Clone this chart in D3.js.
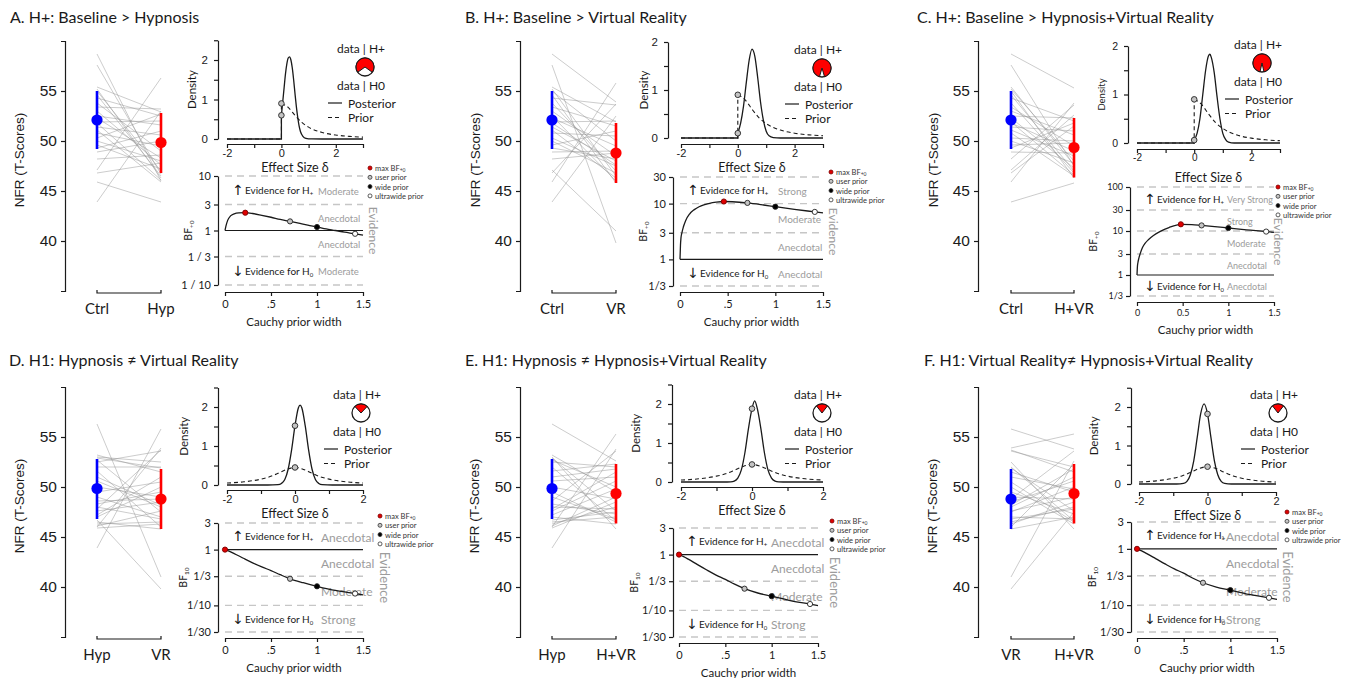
<!DOCTYPE html>
<html>
<head>
<meta charset="utf-8">
<script src="https://cdn.jsdelivr.net/npm/d3@7"></script>
<style>
  body { margin: 0; background: #fff; }
  svg { display: block; }
</style>
</head>
<body>
<div id="chart"></div>
<script>

// ---- data ----
const conditions = ["Ctrl", "Hyp", "VR", "H+VR"];
const condMeans = [52.1, 49.85, 48.8, 49.35];
const condLow = [49.2, 46.8, 45.8, 46.35];
const condHigh = [55.0, 52.8, 51.8, 52.3];
const scoreTicks = [40, 45, 50, 55];

// one value per participant, same order in every condition
const ctrlScores = [58.7, 57.6, 55.4, 55.2, 55.0, 54.6, 54.3, 53.8, 53.4, 53.0, 52.5, 52.3, 51.9, 51.8, 51.4, 51.1, 50.8, 50.3, 50.0, 49.6, 49.3, 48.9, 48.2, 47.1, 46.8, 45.9, 43.9];
const hypScores = [46.0, 46.7, 52.9, 46.3, 47.0, 46.5, 52.5, 49.0, 53.2, 47.6, 51.6, 48.3, 52.0, 46.1, 50.6, 45.9, 49.5, 52.7, 48.0, 47.2, 51.0, 50.0, 48.6, 56.3, 47.8, 43.9, 53.0];
const vrScores = [53.9, 39.8, 51.9, 46.5, 50.0, 45.8, 53.6, 47.0, 51.5, 48.5, 46.0, 49.5, 52.0, 47.6, 48.0, 46.3, 50.5, 47.5, 46.8, 51.0, 48.2, 49.0, 48.8, 41.0, 53.7, 55.8, 52.5];
const hvrScores = [55.3, 47.5, 47.6, 48.0, 46.3, 47.0, 52.0, 46.8, 49.5, 50.6, 52.3, 47.3, 46.6, 49.0, 51.0, 48.5, 46.5, 50.0, 47.8, 49.8, 51.8, 48.8, 53.6, 52.6, 51.5, 53.8, 45.8];

const panelTitles = [
  "A. H+: Baseline > Hypnosis",
  "B. H+: Baseline > Virtual Reality",
  "C. H+: Baseline > Hypnosis+Virtual Reality",
  "D. H1: Hypnosis \u2260 Virtual Reality",
  "E. H1: Hypnosis \u2260 Hypnosis+Virtual Reality",
  "F. H1: Virtual Reality\u2260 Hypnosis+Virtual Reality"
];
const panelPairs = [[0, 1], [0, 2], [0, 3], [1, 2], [1, 3], [2, 3]];
const oneSided = [true, true, true, false, false, false];
const densityYMax = [2.5, 2, 2, 2.5, 2.5, 2.5];

const posteriorCurves = [
  [[0, 0.6], [0.05, 0.95], [0.1, 1.3], [0.15, 1.65], [0.2, 1.9], [0.25, 2.05], [0.3, 2.08], [0.35, 2.0], [0.4, 1.8], [0.45, 1.5], [0.5, 1.15], [0.55, 0.82], [0.6, 0.55], [0.65, 0.33], [0.7, 0.19], [0.8, 0.06], [0.9, 0.015], [1.0, 0.003], [1.5, 0], [3, 0]],
  [[0, 0.1], [0.1, 0.31], [0.2, 0.66], [0.3, 1.16], [0.4, 1.62], [0.5, 1.85], [0.6, 1.7], [0.7, 1.26], [0.8, 0.75], [0.9, 0.37], [1.0, 0.14], [1.1, 0.045], [1.25, 0.01], [1.5, 0], [3, 0]],
  [[0, 0.06], [0.1, 0.2], [0.2, 0.5], [0.3, 1.0], [0.4, 1.5], [0.5, 1.8], [0.55, 1.83], [0.6, 1.76], [0.7, 1.45], [0.8, 0.95], [0.9, 0.5], [1.0, 0.2], [1.1, 0.07], [1.2, 0.02], [1.4, 0], [3, 0]],
  [[-2, 0], [-0.8, 0], [-0.5, 0.01], [-0.4, 0.04], [-0.3, 0.14], [-0.2, 0.41], [-0.1, 0.9], [0, 1.52], [0.1, 1.98], [0.15, 2.05], [0.2, 1.98], [0.3, 1.52], [0.4, 0.9], [0.5, 0.41], [0.6, 0.14], [0.7, 0.04], [0.8, 0.01], [1.1, 0], [2, 0]],
  [[-2, 0], [-0.8, 0], [-0.6, 0.005], [-0.5, 0.024], [-0.4, 0.1], [-0.3, 0.31], [-0.2, 0.75], [-0.1, 1.37], [0, 1.88], [0.075, 2.08], [0.15, 1.88], [0.25, 1.37], [0.35, 0.75], [0.45, 0.31], [0.55, 0.1], [0.65, 0.024], [0.75, 0.005], [1, 0], [2, 0]],
  [[-2, 0], [-0.9, 0], [-0.7, 0.016], [-0.6, 0.07], [-0.5, 0.24], [-0.4, 0.61], [-0.3, 1.21], [-0.2, 1.82], [-0.1, 2.08], [0, 1.82], [0.1, 1.21], [0.2, 0.61], [0.3, 0.24], [0.4, 0.07], [0.5, 0.016], [0.7, 0], [2, 0]]
];
const priorOneSided = [[0, 0.9], [0.25, 0.8], [0.5, 0.6], [0.75, 0.42], [1, 0.3], [1.5, 0.165], [2, 0.1], [2.5, 0.066], [3, 0.047]];
const priorTwoSided = [[-2, 0.05], [-1.5, 0.082], [-1, 0.15], [-0.75, 0.21], [-0.5, 0.3], [-0.25, 0.4], [0, 0.45], [0.25, 0.4], [0.5, 0.3], [0.75, 0.21], [1, 0.15], [1.5, 0.082], [2, 0.05]];
const priorCurves = [priorOneSided, priorOneSided, priorOneSided, priorTwoSided, priorTwoSided, priorTwoSided];
const posteriorAtZero = [0.6, 0.1, 0.06, 1.52, 1.88, 1.82];
const priorAtZero = [0.9, 0.9, 0.9, 0.45, 0.45, 0.45];
const pieShares = [0.70, 0.91, 0.93, 0.24, 0.21, 0.21];

const bfCurves = [
  [[0, 1], [0.01, 1.2], [0.03, 1.55], [0.06, 1.85], [0.1, 2.02], [0.15, 2.1], [0.22, 2.12], [0.3, 2.05], [0.4, 1.9], [0.5, 1.75], [0.6, 1.6], [0.707, 1.47], [0.8, 1.36], [0.9, 1.25], [1.0, 1.16], [1.1, 1.07], [1.2, 1.0], [1.3, 0.93], [1.414, 0.87], [1.5, 0.82]],
  [[0, 1], [0.005, 1.8], [0.01, 2.4], [0.02, 3.0], [0.035, 3.8], [0.06, 5.0], [0.1, 6.5], [0.15, 7.8], [0.2, 8.8], [0.25, 9.5], [0.3, 10.0], [0.38, 10.6], [0.46, 10.9], [0.55, 10.8], [0.707, 10.3], [0.85, 9.6], [1, 8.8], [1.2, 7.9], [1.414, 7.1], [1.5, 6.8]],
  [[0, 1], [0.005, 1.6], [0.01, 1.9], [0.02, 2.4], [0.036, 3.1], [0.06, 4.2], [0.09, 5.3], [0.127, 6.4], [0.18, 7.9], [0.255, 9.8], [0.35, 12.0], [0.48, 14.2], [0.6, 14.0], [0.707, 13.4], [0.85, 12.6], [1, 11.7], [1.2, 10.6], [1.414, 9.7], [1.5, 9.3]],
  [[0, 1], [0.05, 0.93], [0.1, 0.85], [0.2, 0.70], [0.3, 0.58], [0.4, 0.49], [0.5, 0.42], [0.6, 0.355], [0.707, 0.30], [0.85, 0.255], [1, 0.22], [1.2, 0.185], [1.414, 0.163], [1.5, 0.155]],
  [[0, 1], [0.05, 0.92], [0.1, 0.83], [0.2, 0.66], [0.3, 0.53], [0.4, 0.43], [0.5, 0.36], [0.6, 0.295], [0.707, 0.245], [0.85, 0.205], [1, 0.18], [1.2, 0.15], [1.414, 0.13], [1.5, 0.122]],
  [[0, 1], [0.05, 0.92], [0.1, 0.83], [0.2, 0.67], [0.3, 0.54], [0.4, 0.44], [0.5, 0.37], [0.6, 0.30], [0.707, 0.25], [0.85, 0.21], [1, 0.185], [1.2, 0.155], [1.414, 0.135], [1.5, 0.126]]
];
const bfMax = [[0.22, 2.12], [0.46, 10.9], [0.48, 14.2], [0, 1], [0, 1], [0, 1]];
const priorWidths = [0.707, 1, 1.414];
const bfUser = [1.47, 10.3, 13.4, 0.30, 0.245, 0.25];
const bfWide = [1.16, 8.8, 11.7, 0.22, 0.18, 0.185];
const bfUltra = [0.87, 7.1, 9.7, 0.163, 0.13, 0.135];

const bfTicksA = [10, 3, 1, 1 / 3, 1 / 10];
const bfTicksB = [30, 10, 3, 1, 1 / 3];
const bfTicksC = [100, 30, 10, 3, 1, 1 / 3];
const bfTicksH1 = [3, 1, 1 / 3, 1 / 10, 1 / 30];
const bfTicks = [bfTicksA, bfTicksB, bfTicksC, bfTicksH1, bfTicksH1, bfTicksH1];
const bfTickLabels = [
  ["10", "3", "1", "1 / 3", "1 / 10"],
  ["30", "10", "3", "1", "1/3"],
  ["100", "30", "10", "3", "1", "1/3"],
  ["3", "1", "1/3", "1/10", "1/30"],
  ["3", "1", "1/3", "1/10", "1/30"],
  ["3", "1", "1/3", "1/10", "1/30"]
];
const widthTickLabels = ["0", ".5", "1", "1.5"];
const widthTickLabelsC = ["0", "0.5", "1", "1.5"];
const evidenceBands = [
  ["Moderate", "Anecdotal", "Anecdotal", "Moderate"],
  ["Strong", "Moderate", "Anecdotal", "Anecdotal"],
  ["Very Strong", "Strong", "Moderate", "Anecdotal", "Anecdotal"],
  ["Anecdotal", "Anecdotal", "Moderate", "Strong"],
  ["Anecdotal", "Anecdotal", "Moderate", "Strong"],
  ["Anecdotal", "Anecdotal", "Moderate", "Strong"]
];
const bfSubscripts = ["+0", "+0", "+0", "10", "10", "10"];
const legendNames = ["max BF", "user prior", "wide prior", "ultrawide prior"];

// ---- layout (pixel positions for each panel) ----
const layouts = [
  { title: [10, 23],
    left: { axis: 65, x0: 97, x1: 161, top: 41, bot: 291, lab: 19 },
    dens: { axis: 218, xl: 227, xr: 363, y0: 139, y2: 60, xAxisY: 144, lab: 191 },
    pie: [365, 67],
    bf: { axis: 218, xl: 225, xr: 363, yTop: 176, yBot: 285, xAxisY: 292, lab: 188, evX: 318, evFs: 9.5, forFs: 10, evTextX: 373, legend: [370, 168] } },
  { title: [465, 23],
    left: { axis: 520, x0: 552, x1: 616, top: 41, bot: 291, lab: 475 },
    dens: { axis: 668, xl: 681, xr: 823, y0: 138, y2: 42, xAxisY: 144, lab: 643 },
    pie: [822, 68],
    bf: { axis: 673, xl: 680, xr: 823, yTop: 177, yBot: 286, xAxisY: 292, lab: 643, evX: 778, evFs: 10, forFs: 10, evTextX: 833, legend: [831, 172] } },
  { title: [917, 23], small: true,
    left: { axis: 978, x0: 1011, x1: 1074, top: 41, bot: 291, lab: 933 },
    dens: { axis: 1128, xl: 1137, xr: 1280, y0: 143, y2: 46, xAxisY: 149, lab: 1101 },
    pie: [1262, 63],
    bf: { axis: 1130, xl: 1137, xr: 1274, yTop: 187, yBot: 296, xAxisY: 302, lab: 1093, evX: 1227, evFs: 9, forFs: 9.8, evTextX: 1278, legend: [1278, 187] } },
  { title: [9, 366],
    left: { axis: 65, x0: 97, x1: 161, top: 387, bot: 637, lab: 19 },
    dens: { axis: 218, xl: 227, xr: 363, y0: 485, y2: 407, xAxisY: 490, lab: 183 },
    pie: [361, 413],
    bf: { axis: 218, xl: 225, xr: 363, yTop: 523, yBot: 632, xAxisY: 638, lab: 183, evX: 321, evFs: 12, forFs: 10, evTextX: 385, legend: [380, 516] } },
  { title: [465, 366],
    left: { axis: 520, x0: 552, x1: 616, top: 387, bot: 637, lab: 474 },
    dens: { axis: 672, xl: 681, xr: 823, y0: 482, y2: 404, xAxisY: 487, lab: 635 },
    pie: [822, 413],
    bf: { axis: 673, xl: 679, xr: 818, yTop: 528, yBot: 637, xAxisY: 643, lab: 634, evX: 771, evFs: 12, forFs: 10, evTextX: 835, legend: [832, 521] } },
  { title: [924, 366],
    left: { axis: 978, x0: 1011, x1: 1074, top: 387, bot: 637, lab: 932 },
    dens: { axis: 1131, xl: 1139, xr: 1276, y0: 484, y2: 407, xAxisY: 492, lab: 1093 },
    pie: [1278, 413],
    bf: { axis: 1131, xl: 1137, xr: 1277, yTop: 522, yBot: 632, xAxisY: 638, lab: 1092, evX: 1226, evFs: 12, forFs: 10, evTextX: 1288, legend: [1287, 512] },
    stray: [[1223, 537, "1"], [1223, 620, "0"]] }
];

const fontR = "'Liberation Sans', Arial, sans-serif";
const fontM = "Lato, 'Open Sans', sans-serif";
const ink = "#1a1a1a";
const evGrey = "#9c9c9c";
const scoreSets = [ctrlScores, hypScores, vrScores, hvrScores];

const svg = d3.select("#chart").append("svg")
    .attr("width", 1354)
    .attr("height", 678);

const styleAxis = (sel, fs, family) => {
    sel.attr("font-size", null).attr("font-family", null);
    sel.select(".domain").attr("stroke", ink).attr("stroke-width", 1.2);
    sel.selectAll(".tick line").attr("stroke", ink).attr("stroke-width", 1.2);
    sel.selectAll(".tick text")
        .attr("font-family", family)
        .attr("font-size", fs)
        .attr("fill", ink);
};

const drawScores = (g, S, p) => {
    const [a, b] = panelPairs[p];
    const y = d3.scaleLinear().domain([35, 60]).range([S.bot, S.top]);
    const x = d3.scalePoint().domain([conditions[a], conditions[b]]).range([S.x0, S.x1]);

    const ay = g.append("g")
        .attr("transform", `translate(${S.axis},0)`)
        .call(d3.axisLeft(y).tickValues(scoreTicks).tickSize(4).tickSizeOuter(4).tickPadding(4));
    styleAxis(ay, 15.5, fontR);

    const base = S.bot + 2;
    g.append("path")
        .attr("d", `M${S.x0},${base - 3}V${base}H${S.x1}V${base - 3}`)
        .attr("fill", "none")
        .attr("stroke", ink)
        .attr("stroke-width", 1.2);

    g.selectAll(".cond-label")
        .data([a, b])
        .enter()
        .append("text")
        .attr("x", d => x(conditions[d]))
        .attr("y", S.bot + 17)
        .attr("text-anchor", "middle")
        .attr("dominant-baseline", "central")
        .attr("font-family", fontM)
        .attr("font-size", 15)
        .attr("fill", ink)
        .text(d => conditions[d]);

    g.append("text")
        .attr("transform", `translate(${S.lab},${(S.top + S.bot) / 2 - 6}) rotate(-90)`)
        .attr("text-anchor", "middle")
        .attr("dominant-baseline", "central")
        .attr("font-family", fontR)
        .attr("font-size", 13.5)
        .attr("fill", ink)
        .text("NFR (T-Scores)");

    const left = scoreSets[a], right = scoreSets[b];
    g.append("g")
        .selectAll("line")
        .data(d3.range(left.length))
        .enter()
        .append("line")
        .attr("x1", x(conditions[a]))
        .attr("x2", x(conditions[b]))
        .attr("y1", i => y(left[i]))
        .attr("y2", i => y(right[i]))
        .attr("stroke", "#8f8f8f")
        .attr("stroke-opacity", 0.45)
        .attr("stroke-width", 1);

    [[a, "#0000ff"], [b, "#ff0000"]].forEach(([c, col]) => {
        g.append("line")
            .attr("x1", x(conditions[c])).attr("x2", x(conditions[c]))
            .attr("y1", y(condLow[c])).attr("y2", y(condHigh[c]))
            .attr("stroke", col)
            .attr("stroke-width", 2.6);
        g.append("circle")
            .attr("cx", x(conditions[c]))
            .attr("cy", y(condMeans[c]))
            .attr("r", 5.6)
            .attr("fill", col);
    });
};

const drawDensity = (g, L, p) => {
    const D = L.dens;
    const xDom = oneSided[p] ? [-2, 3] : [-2, 2];
    const unit = (D.y0 - D.y2) / 2;
    const ymax = densityYMax[p];
    const xd = d3.scaleLinear().domain(xDom).range([D.xl, D.xr]);
    const yd = d3.scaleLinear().domain([0, ymax]).range([D.y0, D.y0 - ymax * unit]);
    const fs = L.small ? 10 : 11;

    const ya = g.append("g")
        .attr("transform", `translate(${D.axis},0)`)
        .call(d3.axisLeft(yd)
            .tickValues(d3.range(0, ymax + 0.01, 0.5))
            .tickFormat(d => Number.isInteger(d) ? String(d) : "")
            .tickSize(4).tickSizeOuter(0).tickPadding(6));
    styleAxis(ya, fs + 0.5, fontR);

    const xa = g.append("g")
        .attr("transform", `translate(0,${D.xAxisY})`)
        .call(d3.axisBottom(xd)
            .tickValues(d3.range(xDom[0], xDom[1] + 0.01, 1))
            .tickFormat(d => d % 2 === 0 ? String(d) : "")
            .tickSize(4).tickSizeOuter(0).tickPadding(1));
    styleAxis(xa, fs, fontR);

    g.append("text")
        .attr("transform", `translate(${D.lab},${(D.y0 + yd(ymax)) / 2}) rotate(-90)`)
        .attr("text-anchor", "middle")
        .attr("dominant-baseline", "central")
        .attr("font-family", fontM)
        .attr("font-size", L.small ? 9.5 : 11.5)
        .attr("fill", ink)
        .text("Density");

    g.append("text")
        .attr("x", (D.xl + D.xr) / 2)
        .attr("y", D.xAxisY + (L.small ? 28 : 23))
        .attr("text-anchor", "middle")
        .attr("dominant-baseline", "central")
        .attr("font-family", fontM)
        .attr("font-size", 12.5)
        .attr("fill", ink)
        .text("Effect Size \u03b4");

    const smooth = d3.line().x(d => xd(d[0])).y(d => yd(d[1])).curve(d3.curveMonotoneX);
    const straight = d3.line().x(d => xd(d[0])).y(d => yd(d[1]));
    const densityPath = pts => oneSided[p]
        ? straight([[xDom[0], 0], [0, 0], pts[0]]) + smooth(pts)
        : smooth(pts);

    g.append("path")
        .attr("d", densityPath(priorCurves[p]))
        .attr("fill", "none")
        .attr("stroke", ink)
        .attr("stroke-width", 1.1)
        .attr("stroke-dasharray", "4,3");

    g.append("path")
        .attr("d", densityPath(posteriorCurves[p]))
        .attr("fill", "none")
        .attr("stroke", ink)
        .attr("stroke-width", 1.3);

    g.selectAll(".zero-pt")
        .data([posteriorAtZero[p], priorAtZero[p]])
        .enter()
        .append("circle")
        .attr("cx", xd(0))
        .attr("cy", d => yd(d))
        .attr("r", 2.8)
        .attr("fill", "#c4c4c4")
        .attr("stroke", "#333")
        .attr("stroke-width", 1);

    // pie of data|H+ versus data|H0
    const share = pieShares[p];
    const [px, py] = L.pie;
    const pg = g.append("g").attr("transform", `translate(${px},${py})`);
    pg.append("circle")
        .attr("r", 9)
        .attr("fill", "#fff")
        .attr("stroke", ink)
        .attr("stroke-width", 1.3);
    pg.append("path")
        .attr("d", d3.arc()({ innerRadius: 0, outerRadius: 9, startAngle: -share * Math.PI, endAngle: share * Math.PI }))
        .attr("fill", "#ff0000")
        .attr("stroke", ink)
        .attr("stroke-width", 1);

    [["data | H+", -19], ["data | H0", 18]].forEach(([t, dy]) => {
        g.append("text")
            .attr("x", px - 4)
            .attr("y", py + dy)
            .attr("text-anchor", "middle")
            .attr("dominant-baseline", "central")
            .attr("font-family", fontM)
            .attr("font-size", 12)
            .attr("fill", ink)
            .text(t);
    });

    [["Posterior", null, 0], ["Prior", "4,3", 14.5]].forEach(([t, dash, dy]) => {
        const ly = py + 36 + dy;
        g.append("line")
            .attr("x1", px - 37).attr("x2", px - 23)
            .attr("y1", ly).attr("y2", ly)
            .attr("stroke", ink)
            .attr("stroke-width", 1.2)
            .attr("stroke-dasharray", dash);
        g.append("text")
            .attr("x", px - 17)
            .attr("y", ly)
            .attr("dominant-baseline", "central")
            .attr("font-family", fontM)
            .attr("font-size", 12)
            .attr("fill", ink)
            .text(t);
    });
};

const drawRobustness = (g, L, p) => {
    const B = L.bf;
    const ticks = bfTicks[p];
    const xb = d3.scaleLinear().domain([0, 1.5]).range([B.xl, B.xr]);
    const yb = d3.scaleLog().domain([d3.min(ticks), d3.max(ticks)]).range([B.yBot, B.yTop]);
    const small = L.small;

    g.append("g")
        .selectAll("line")
        .data(ticks.filter(t => Math.abs(t - 1) > 1e-9))
        .enter()
        .append("line")
        .attr("x1", B.xl).attr("x2", B.xr)
        .attr("y1", d => yb(d)).attr("y2", d => yb(d))
        .attr("stroke", "#c6c6c6")
        .attr("stroke-width", 1.4)
        .attr("stroke-dasharray", "7,5");

    g.append("line")
        .attr("x1", B.xl).attr("x2", B.xr)
        .attr("y1", yb(1)).attr("y2", yb(1))
        .attr("stroke", ink)
        .attr("stroke-width", 1.2);

    // evidence categories between the thresholds
    const bands = d3.pairs(ticks);
    g.selectAll(".band-label")
        .data(bands)
        .enter()
        .append("text")
        .attr("x", B.evX)
        .attr("y", d => yb(Math.sqrt(d[0] * d[1])) + 1)
        .attr("dominant-baseline", "central")
        .attr("font-family", fontM)
        .attr("font-size", B.evFs)
        .attr("fill", evGrey)
        .text((d, i) => evidenceBands[p][i]);

    const ya = g.append("g")
        .attr("transform", `translate(${B.axis},0)`)
        .call(d3.axisLeft(yb)
            .tickValues(ticks)
            .tickFormat((d, i) => bfTickLabels[p][i])
            .tickSize(4).tickSizeOuter(0).tickPadding(3));
    styleAxis(ya, small ? 9 : 11, fontM);

    const xa = g.append("g")
        .attr("transform", `translate(0,${B.xAxisY})`)
        .call(d3.axisBottom(xb)
            .tickValues([0, 0.5, 1, 1.5])
            .tickFormat((d, i) => (small ? widthTickLabelsC : widthTickLabels)[i])
            .tickSize(4).tickSizeOuter(0).tickPadding(4));
    styleAxis(xa, small ? 9 : 11, fontM);

    g.append("text")
        .attr("x", (B.xl + B.xr) / 2)
        .attr("y", B.xAxisY + (small ? 27 : 29))
        .attr("text-anchor", "middle")
        .attr("dominant-baseline", "central")
        .attr("font-family", fontM)
        .attr("font-size", 11.5)
        .attr("fill", ink)
        .text("Cauchy prior width");

    const bfText = g.append("text")
        .attr("transform", `translate(${B.lab},${(B.yTop + B.yBot) / 2}) rotate(-90)`)
        .attr("text-anchor", "middle")
        .attr("dominant-baseline", "central")
        .attr("font-family", fontM)
        .attr("font-size", 10.5)
        .attr("fill", ink);
    bfText.append("tspan").text("BF");
    bfText.append("tspan").attr("font-size", 6.5).attr("dy", 3).text(bfSubscripts[p]);

    g.append("path")
        .attr("d", d3.line().x(d => xb(d[0])).y(d => yb(d[1])).curve(d3.curveMonotoneX)(bfCurves[p]))
        .attr("fill", "none")
        .attr("stroke", ink)
        .attr("stroke-width", 1.3);

    const marks = [
        [bfMax[p][0], bfMax[p][1], "#e00000"],
        [priorWidths[0], bfUser[p], "#c4c4c4"],
        [priorWidths[1], bfWide[p], "#000"],
        [priorWidths[2], bfUltra[p], "#fff"]
    ];
    g.selectAll(".bf-pt")
        .data(marks)
        .enter()
        .append("circle")
        .attr("cx", d => xb(d[0]))
        .attr("cy", d => yb(d[1]))
        .attr("r", 2.6)
        .attr("fill", d => d[2])
        .attr("stroke", (d, i) => i === 0 ? "#7a0000" : "#222")
        .attr("stroke-width", 0.9);

    // arrows: evidence for H+ / H0
    const upY = yb(Math.sqrt(bands[0][0] * bands[0][1]));
    const last = bands[bands.length - 1];
    const downY = yb(Math.sqrt(last[0] * last[1]));
    [[upY, "\u2191", "+"], [downY, "\u2193", "0"]].forEach(([yy, arrow, sub]) => {
        g.append("text")
            .attr("x", B.xl + 13)
            .attr("y", yy)
            .attr("text-anchor", "middle")
            .attr("dominant-baseline", "central")
            .attr("font-family", "'DejaVu Sans', sans-serif")
            .attr("font-size", 14)
            .attr("fill", ink)
            .text(arrow);
        const t = g.append("text")
            .attr("x", B.xl + 20)
            .attr("y", yy)
            .attr("dominant-baseline", "central")
            .attr("font-family", fontM)
            .attr("font-size", B.forFs)
            .attr("fill", ink);
        t.append("tspan").text("Evidence for H");
        t.append("tspan").attr("font-size", B.forFs * 0.6).attr("dy", 3).text(sub);
    });

    g.append("text")
        .attr("transform", `translate(${B.evTextX},${(B.yTop + B.yBot) / 2}) rotate(90)`)
        .attr("text-anchor", "middle")
        .attr("dominant-baseline", "central")
        .attr("font-family", fontM)
        .attr("font-size", p < 3 ? 12 : 13)
        .attr("fill", evGrey)
        .text("Evidence");

    // legend of the prior widths
    const [lx, ly] = B.legend;
    marks.forEach((m, i) => {
        g.append("circle")
            .attr("cx", lx)
            .attr("cy", ly + i * 9.3)
            .attr("r", 2)
            .attr("fill", m[2])
            .attr("stroke", i === 0 ? "#7a0000" : "#333")
            .attr("stroke-width", 0.8);
        const t = g.append("text")
            .attr("x", lx + 5)
            .attr("y", ly + i * 9.3)
            .attr("dominant-baseline", "central")
            .attr("font-family", fontM)
            .attr("font-size", 7.5)
            .attr("fill", "#333");
        t.append("tspan").text(legendNames[i]);
        if (i === 0) {
            t.append("tspan").attr("font-size", 5).attr("dy", 2).text("+0");
        }
    });

    (L.stray || []).forEach(([sx, sy, st]) => {
        g.append("text")
            .attr("x", sx).attr("y", sy)
            .attr("text-anchor", "middle")
            .attr("dominant-baseline", "central")
            .attr("font-family", fontM)
            .attr("font-size", 6.5)
            .attr("fill", "#777")
            .text(st);
    });
};

layouts.forEach((L, p) => {
    const g = svg.append("g").attr("class", `panel-${p}`);
    g.append("text")
        .attr("x", L.title[0])
        .attr("y", L.title[1])
        .attr("font-family", fontM)
        .attr("font-size", 16)
        .attr("fill", ink)
        .text(panelTitles[p]);
    drawScores(g, L.left, p);
    drawDensity(g, L, p);
    drawRobustness(g, L, p);
});

</script>
</body>
</html>
